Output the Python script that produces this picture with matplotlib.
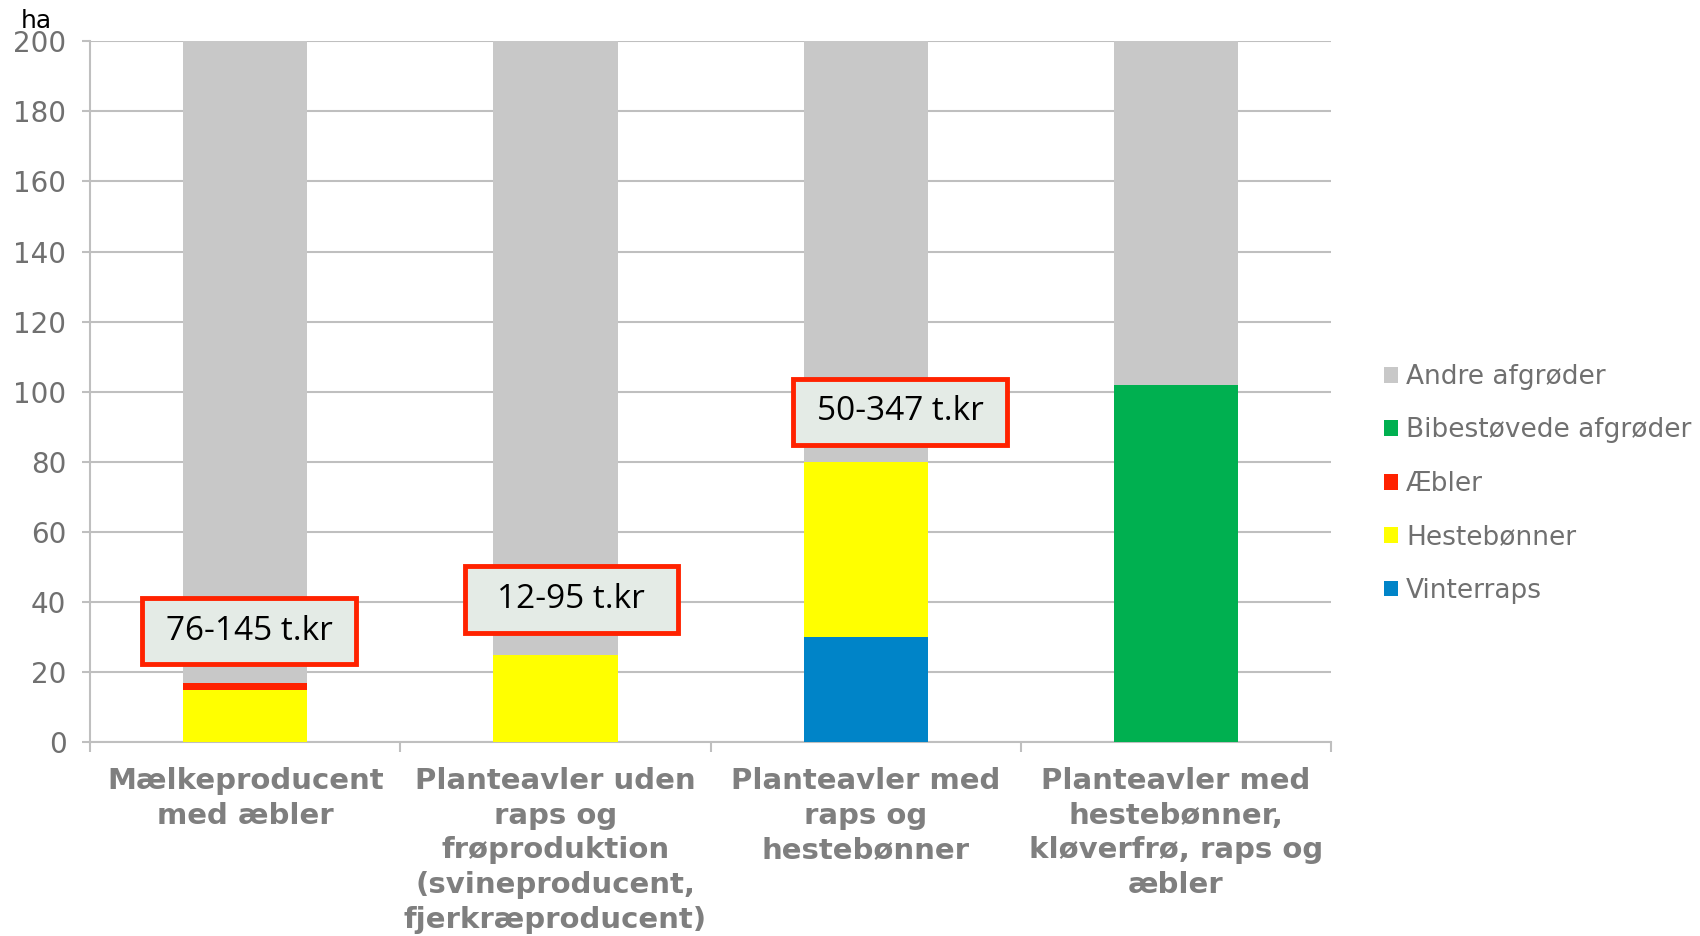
import numpy as np
import matplotlib.pyplot as plt
from matplotlib.patches import Rectangle

# categories and crop areas (ha)
categories = ["Mælkeproducent\nmed æbler",
              "Planteavler uden\nraps og\nfrøproduktion\n(svineproducent,\nfjerkræproducent)",
              "Planteavler med\nraps og\nhestebønner",
              "Planteavler med\nhestebønner,\nkløverfrø, raps og\næbler"]

vinterraps = [0, 0, 30, 0]
hestebonner = [15, 25, 50, 0]
aebler = [2, 0, 0, 0]
bibestovede = [0, 0, 0, 102]
andre = [183, 175, 120, 98]

series_names = ["Vinterraps", "Hestebønner", "Æbler", "Bibestøvede afgrøder", "Andre afgrøder"]
series_colors = ["#0084C8", "#FFFF00", "#FF2200", "#00B050", "#C8C8C8"]

value_labels = ["76-145 t.kr", "12-95 t.kr", "50-347 t.kr"]
label_x = [0.012, 1.051, 2.111]
label_y = [31.7, 40.7, 94.3]

fig = plt.figure(figsize=(17, 9.36), dpi=100)
ax = fig.add_axes([0.053, 0.207, 0.730, 0.749])

x = np.arange(len(categories))
bottom = np.zeros(len(categories))
handles = []
for name, vals, col in zip(series_names, [vinterraps, hestebonner, aebler, bibestovede, andre], series_colors):
    b = ax.bar(x, vals, width=0.4, bottom=bottom, color=col, label=name, zorder=3)
    handles.append(b)
    bottom += np.array(vals)

ax.set_xlim(-0.5, 3.5)
ax.set_ylim(0, 200)
ax.set_yticks(np.arange(0, 201, 20))
ax.yaxis.grid(True, color="#BFBFBF", linewidth=1.5, zorder=0)
ax.set_axisbelow(True)

for s in ["top", "right"]:
    ax.spines[s].set_visible(False)
for s in ["left", "bottom"]:
    ax.spines[s].set_color("#BFBFBF")
    ax.spines[s].set_linewidth(1.5)

ax.set_xticks(x)
ax.set_xticklabels(categories, fontsize=21, fontweight="bold", color="#7F7F7F",
                   linespacing=1.3, va="top")
ax.set_xticks(np.arange(-0.5, 3.6, 1), minor=True)
ax.tick_params(axis="x", which="major", length=0, pad=18)
ax.tick_params(axis="x", which="minor", length=7, color="#BFBFBF", width=1.5)
ax.tick_params(axis="y", length=6, color="#BFBFBF", width=1.5, pad=11,
               labelsize=20, labelcolor="#707070")

# boxed cost labels
box_w, box_h = 0.688, 18.9
for txt, tx, ty in zip(value_labels, label_x, label_y):
    ax.add_patch(Rectangle((tx - box_w / 2, ty - box_h / 2), box_w, box_h,
                           facecolor="#E4EBE6", edgecolor="#FF2200", linewidth=3.5,
                           zorder=5))
    ax.text(tx, ty, txt, ha="center", va="center", fontsize=24, color="black",
            family="Open Sans", zorder=6)

fig.text(0.012, 0.978, "ha", fontsize=18, color="black", va="center")

leg = fig.legend(handles[::-1], series_names[::-1], loc="center left",
                 bbox_to_anchor=(0.8, 0.483), frameon=False, fontsize=19,
                 handlelength=0.55, handleheight=0.55, handletextpad=0.3,
                 labelspacing=1.04, labelcolor="#707070")

fig.savefig("out.png", dpi=100)
